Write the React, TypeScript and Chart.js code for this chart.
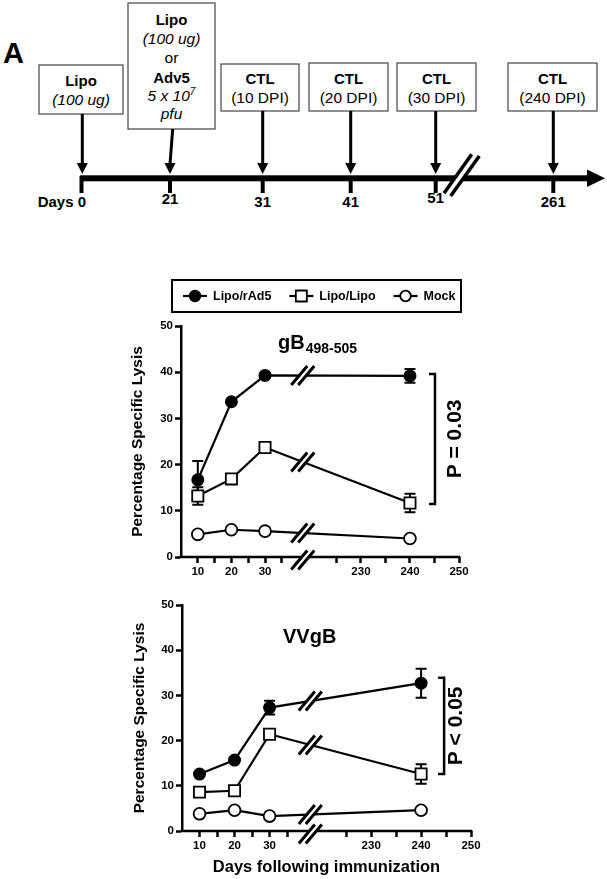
import React, { useEffect, useRef } from 'react';
import { Chart, registerables, LinearScale } from 'chart.js';

Chart.register(...registerables);

const FONT = '"Liberation Sans", Arial, Helvetica, sans-serif';

// ---------------- data ----------------
const days = [10, 20, 30, 240];
const seriesNames = ['Lipo/rAd5', 'Lipo/Lipo', 'Mock'];

const gbLipoRad5 = [16.7, 33.6, 39.3, 39.2];
const gbLipoRad5Err = [4.1, 0, 0, 1.5];
const gbLipoLipo = [13.2, 16.9, 23.7, 11.7];
const gbLipoLipoErr = [1.9, 0, 0, 2.0];
const gbMock = [4.9, 5.9, 5.6, 4.0];
const gbMockErr = [0, 0, 0, 0];

const vvLipoRad5 = [12.6, 15.7, 27.3, 32.7];
const vvLipoRad5Err = [0, 0, 1.5, 3.2];
const vvLipoLipo = [8.6, 8.9, 21.4, 12.6];
const vvLipoLipoErr = [0, 0, 0, 2.15];
const vvMock = [3.8, 4.6, 3.3, 4.6];
const vvMockErr = [0, 0, 0, 0];

const xTickValues = [10, 15, 20, 25, 30, 35, 225, 230, 235, 240, 245, 250];
const xTickLabels = ['10', '', '20', '', '30', '', '', '230', '', '240', '', '250'];
const yMin = 0;
const yMax = 50;
const yStep = 10;

const timelineDays = ['0', '21', '31', '41', '51', '261'];
const ctlTimes = ['(10 DPI)', '(20 DPI)', '(30 DPI)', '(240 DPI)'];

// ---------------- broken linear scale ----------------
class BrokenLinearScale extends LinearScale {
  static id = 'brokenLinear';
  static defaults = { ...(LinearScale as any).defaults };
  brk() {
    return (this as any).options.brk;
  }
  valueToDecimal(v: number) {
    const b = this.brk();
    if (v <= b.leftMax) return ((v - b.leftMin) / (b.leftMax - b.leftMin)) * b.leftEnd;
    if (v >= b.rightMin) return b.rightStart + ((v - b.rightMin) / (b.rightMax - b.rightMin)) * (1 - b.rightStart);
    return b.leftEnd + ((v - b.leftMax) / (b.rightMin - b.leftMax)) * (b.rightStart - b.leftEnd);
  }
  getPixelForValue(value: any) {
    if (value === null || value === undefined || isNaN(value)) return NaN;
    return (this as any).getPixelForDecimal(this.valueToDecimal(+value));
  }
  getValueForPixel(pixel: number) {
    const d = (this as any).getDecimalForPixel(pixel);
    const b = this.brk();
    if (d <= b.leftEnd) return b.leftMin + (d / b.leftEnd) * (b.leftMax - b.leftMin);
    if (d >= b.rightStart) return b.rightMin + ((d - b.rightStart) / (1 - b.rightStart)) * (b.rightMax - b.rightMin);
    return b.leftMax + ((d - b.leftEnd) / (b.rightStart - b.leftEnd)) * (b.rightMin - b.leftMax);
  }
}
Chart.register(BrokenLinearScale as any);

// ---------------- helpers ----------------
const markerStyles = [
  { pointStyle: 'circle', r: 5.6, fill: '#000' },
  { pointStyle: 'rect', r: 7.9, fill: '#fff' },
  { pointStyle: 'circle', r: 5.9, fill: '#fff' },
];

function drawBreak(ctx: CanvasRenderingContext2D, cx: number, cy: number) {
  const sep = 7, hx = 8, hy = 9.5;
  ctx.save();
  ctx.fillStyle = '#fff';
  ctx.beginPath();
  ctx.moveTo(cx - sep / 2 - hx, cy + hy);
  ctx.lineTo(cx - sep / 2 + hx, cy - hy);
  ctx.lineTo(cx + sep / 2 + hx, cy - hy);
  ctx.lineTo(cx + sep / 2 - hx, cy + hy);
  ctx.closePath();
  ctx.fill();
  ctx.strokeStyle = '#000';
  ctx.lineWidth = 3;
  ctx.beginPath();
  ctx.moveTo(cx - sep / 2 - hx, cy + hy);
  ctx.lineTo(cx - sep / 2 + hx, cy - hy);
  ctx.moveTo(cx + sep / 2 - hx, cy + hy);
  ctx.lineTo(cx + sep / 2 + hx, cy - hy);
  ctx.stroke();
  ctx.restore();
}

function drawLegendMarker(ctx: CanvasRenderingContext2D, i: number, x: number, y: number) {
  ctx.save();
  ctx.strokeStyle = '#000';
  ctx.lineWidth = 2.2;
  ctx.beginPath();
  ctx.moveTo(x - 12, y);
  ctx.lineTo(x + 12, y);
  ctx.stroke();
  ctx.lineWidth = 1.8;
  ctx.fillStyle = markerStyles[i].fill;
  ctx.beginPath();
  if (markerStyles[i].pointStyle === 'rect') {
    ctx.rect(x - 5.5, y - 5.5, 11, 11);
  } else {
    ctx.arc(x, y, 5.3, 0, Math.PI * 2);
  }
  ctx.fill();
  ctx.stroke();
  ctx.restore();
}

type Series = { values: number[]; err: number[] };

function buildConfig(p: any) {
  const series: Series[] = p.series;
  const datasets = series.map((s, i) => ({
    label: seriesNames[i],
    data: days.map((d, j) => ({ x: d, y: s.values[j] })),
    borderColor: '#000',
    borderWidth: 2.2,
    pointStyle: markerStyles[i].pointStyle,
    pointRadius: markerStyles[i].r,
    pointHoverRadius: markerStyles[i].r,
    pointBackgroundColor: markerStyles[i].fill,
    pointBorderColor: '#000',
    pointBorderWidth: 1.8,
    tension: 0,
    fill: false,
    clip: false,
  }));

  const plugin = {
    id: 'custom-' + p.key,
    beforeDatasetsDraw(chart: any) {
      const ctx = chart.ctx as CanvasRenderingContext2D;
      const { left, right, bottom } = chart.chartArea;
      const xs = chart.scales.x;
      const ys = chart.scales.y;
      ctx.save();
      ctx.strokeStyle = '#000';
      ctx.lineWidth = 2.5;
      ctx.beginPath();
      ctx.moveTo(left - 1.25, bottom);
      ctx.lineTo(right + 1.25, bottom);
      ctx.stroke();
      ctx.lineWidth = 2;
      series.forEach((s) => {
        s.err.forEach((e, j) => {
          if (!e) return;
          const x = xs.getPixelForValue(days[j]);
          const y1 = ys.getPixelForValue(s.values[j] + e);
          const y2 = ys.getPixelForValue(s.values[j] - e);
          ctx.beginPath();
          ctx.moveTo(x, y1);
          ctx.lineTo(x, y2);
          ctx.moveTo(x - 5.5, y1);
          ctx.lineTo(x + 5.5, y1);
          ctx.moveTo(x - 5.5, y2);
          ctx.lineTo(x + 5.5, y2);
          ctx.stroke();
        });
      });
      ctx.restore();
    },
    afterDatasetsDraw(chart: any) {
      const ctx = chart.ctx as CanvasRenderingContext2D;
      const { bottom } = chart.chartArea;
      const xs = chart.scales.x;
      const b = p.brk;
      const cx = (xs.getPixelForValue(b.leftMax) + xs.getPixelForValue(b.rightMin)) / 2;
      // break marks on lines
      series.forEach((_s, i) => {
        const pts = chart.getDatasetMeta(i).data;
        for (let j = 0; j < days.length - 1; j++) {
          if (days[j] <= b.leftMax && days[j + 1] >= b.rightMin) {
            const a = pts[j], c = pts[j + 1];
            const t = (cx - a.x) / (c.x - a.x);
            drawBreak(ctx, cx, a.y + t * (c.y - a.y));
          }
        }
      });
      drawBreak(ctx, cx, bottom + 3);

      // bracket with P value
      const br = p.bracket;
      const mU = chart.getDatasetMeta(br.upper).data[br.at];
      const mL = chart.getDatasetMeta(br.lower).data[br.at];
      const bx = mU.x + br.dx;
      const yTop = mU.y + br.topAdj;
      const yBot = mL.y + br.botAdj;
      ctx.save();
      ctx.strokeStyle = '#000';
      ctx.lineWidth = 2.5;
      ctx.beginPath();
      ctx.moveTo(bx - 6, yTop);
      ctx.lineTo(bx, yTop);
      ctx.lineTo(bx, yBot);
      ctx.lineTo(bx - 6, yBot);
      ctx.stroke();
      ctx.translate(mU.x + br.textDx, (yTop + yBot) / 2);
      ctx.rotate(-Math.PI / 2);
      ctx.fillStyle = '#000';
      ctx.font = `bold 21px ${FONT}`;
      ctx.textAlign = 'center';
      ctx.textBaseline = 'middle';
      ctx.fillText(br.text, 0, 0);
      ctx.restore();

      // panel title
      ctx.save();
      ctx.fillStyle = '#000';
      ctx.textBaseline = 'alphabetic';
      ctx.textAlign = 'left';
      ctx.font = `bold 20px ${FONT}`;
      ctx.fillText(p.title, p.titleX, p.titleY);
      if (p.titleSub) {
        const w = ctx.measureText(p.title).width;
        ctx.font = `bold 14px ${FONT}`;
        ctx.fillText(p.titleSub, p.titleX + w + 1, p.titleY + 4);
      }
      ctx.restore();

      // legend
      if (p.legend) {
        ctx.save();
        ctx.strokeStyle = '#000';
        ctx.lineWidth = 2;
        ctx.strokeRect(172, 10, 289, 32);
        ctx.font = `bold 12.5px ${FONT}`;
        ctx.fillStyle = '#000';
        ctx.textBaseline = 'middle';
        ctx.textAlign = 'left';
        let x = 183;
        const cy = 26;
        seriesNames.forEach((name, i) => {
          drawLegendMarker(ctx, i, x + 12, cy);
          ctx.fillText(name, x + 30, cy + 0.5);
          x = x + 30 + ctx.measureText(name).width + 18;
        });
        ctx.restore();
      }
    },
  };

  const tickFont = { family: FONT, size: 11.5, weight: 'bold' as const };

  return {
    type: 'line' as const,
    data: { datasets },
    plugins: [plugin],
    options: {
      responsive: false,
      maintainAspectRatio: false,
      animation: false as const,
      events: [],
      layout: { padding: { left: 0, top: p.padTop, right: p.padRight, bottom: 0 } },
      plugins: {
        legend: { display: false },
        tooltip: { enabled: false },
        title: { display: false },
      },
      scales: {
        x: {
          type: 'brokenLinear',
          min: 5,
          max: 250,
          brk: p.brk,
          afterBuildTicks: (scale: any) => {
            scale.ticks = xTickValues.map((v) => ({ value: v }));
          },
          afterFit: (scale: any) => {
            scale.height = p.xHeight;
          },
          ticks: {
            autoSkip: false,
            maxRotation: 0,
            minRotation: 0,
            padding: 2,
            color: '#000',
            font: tickFont,
            callback: (_v: any, i: number) => xTickLabels[i],
          },
          grid: {
            display: true,
            drawOnChartArea: false,
            drawTicks: true,
            tickLength: 6,
            tickWidth: 2.5,
            tickColor: '#000',
          },
          border: { display: false },
          title: p.xTitle
            ? {
                display: true,
                text: p.xTitle,
                color: '#000',
                font: { family: FONT, size: 16.5, weight: 'bold' },
                padding: { top: 0, bottom: 2 },
              }
            : { display: false },
        },
        y: {
          type: 'linear',
          min: yMin,
          max: yMax,
          afterFit: (scale: any) => {
            scale.width = p.yWidth;
          },
          ticks: { stepSize: yStep, padding: 2, color: '#000', font: tickFont },
          grid: {
            display: true,
            drawOnChartArea: false,
            drawTicks: true,
            tickLength: 6,
            tickWidth: 2.5,
            tickColor: '#000',
          },
          border: { display: true, color: '#000', width: 2.5 },
          title: {
            display: true,
            text: 'Percentage Specific Lysis',
            color: '#000',
            font: { family: FONT, size: 15.5, weight: 'bold' },
            padding: { top: p.yTitlePad, bottom: 0 },
          },
        },
      },
    },
  };
}

// ---------------- panel A (schematic) ----------------
function Box(props: { x: number; y: number; w: number; h: number; children?: any }) {
  return (
    <g>
      <rect x={props.x} y={props.y} width={props.w} height={props.h} fill="#fff" stroke="#444" strokeWidth={1.2} />
      {props.children}
    </g>
  );
}

function Arrow(props: { x1: number; y1: number; x2: number }) {
  const tipY = 174;
  const headY = 163;
  return (
    <g>
      <line x1={props.x1} y1={props.y1} x2={props.x2} y2={headY + 1} stroke="#000" strokeWidth={3} />
      <polygon points={`${props.x2 - 5.5},${headY} ${props.x2 + 5.5},${headY} ${props.x2},${tipY}`} fill="#000" />
    </g>
  );
}

function PanelA() {
  const ctlBoxes = [
    { x: 221, y: 64, w: 78, h: 47, ax: 262.7 },
    { x: 309, y: 63, w: 79, h: 48, ax: 350.7 },
    { x: 397, y: 63, w: 79, h: 48, ax: 435.7 },
    { x: 508, y: 63, w: 89, h: 48, ax: 553.3 },
  ];
  const tickX = [81.5, 170, 262.7, 350.7, 435.7, 553.3];
  const labelY = [207, 204, 206.7, 207.3, 203.3, 207.3];
  return (
    <svg width={607} height={240} style={{ position: 'absolute', left: 0, top: 0 }} fontFamily={FONT}>
      <text x={3} y={63} fontSize={29} fontWeight="bold" fill="#000">A</text>

      <Box x={39} y={65} w={84} h={49}>
        <text x={81} y={86} fontSize={15} fontWeight="bold" textAnchor="middle">Lipo</text>
        <text x={81} y={105} fontSize={15.5} fontStyle="italic" textAnchor="middle">(100 ug)</text>
      </Box>
      <Arrow x1={82.3} y1={114} x2={82.3} />

      <Box x={128} y={3} w={87} h={126}>
        <text x={171.5} y={25} fontSize={15} fontWeight="bold" textAnchor="middle">Lipo</text>
        <text x={171.5} y={44} fontSize={15.5} fontStyle="italic" textAnchor="middle">(100 ug)</text>
        <text x={171.5} y={63} fontSize={15.5} textAnchor="middle">or</text>
        <text x={171.5} y={82.7} fontSize={15} fontWeight="bold" textAnchor="middle">Adv5</text>
        <text x={171.5} y={101} fontSize={15.5} fontStyle="italic" textAnchor="middle">
          5 x 10<tspan fontSize={10} dy={-6}>7</tspan>
        </text>
        <text x={171.5} y={118.5} fontSize={15.5} fontStyle="italic" textAnchor="middle">pfu</text>
      </Box>
      <Arrow x1={172.7} y1={129} x2={170} />

      {ctlBoxes.map((b, i) => (
        <g key={i}>
          <Box x={b.x} y={b.y} w={b.w} h={b.h}>
            <text x={b.x + b.w / 2} y={84} fontSize={15} fontWeight="bold" textAnchor="middle">CTL</text>
            <text x={b.x + b.w / 2} y={103.3} fontSize={15.5} textAnchor="middle">{ctlTimes[i]}</text>
          </Box>
          <Arrow x1={b.ax} y1={b.y + b.h} x2={b.ax} />
        </g>
      ))}

      {/* timeline */}
      <rect x={80} y={175.3} width={509} height={6} fill="#000" />
      <polygon points="587,169.5 605,178.3 587,187" fill="#000" />
      {tickX.map((x, i) => (
        <line key={'t' + i} x1={x} y1={176} x2={x} y2={193} stroke="#000" strokeWidth={4} />
      ))}
      {/* break on timeline */}
      <polygon points="444,193.3 471.7,154.3 479.3,156 450.7,196" fill="#fff" />
      <line x1={444} y1={193.3} x2={471.7} y2={154.3} stroke="#000" strokeWidth={3.5} />
      <line x1={450.7} y1={196} x2={479.3} y2={156} stroke="#000" strokeWidth={3.5} />

      {timelineDays.map((d, i) =>
        i === 0 ? (
          <text key={'l' + i} x={86} y={labelY[i]} fontSize={15} fontWeight="bold" textAnchor="end">
            {'Days ' + d}
          </text>
        ) : (
          <text key={'l' + i} x={tickX[i]} y={labelY[i]} fontSize={15} fontWeight="bold" textAnchor="middle">
            {d}
          </text>
        )
      )}
    </svg>
  );
}

// ---------------- app ----------------
export default function App() {
  const topRef = useRef<HTMLCanvasElement>(null);
  const botRef = useRef<HTMLCanvasElement>(null);

  useEffect(() => {
    const topCfg = buildConfig({
      key: 'top',
      series: [
        { values: gbLipoRad5, err: gbLipoRad5Err },
        { values: gbLipoLipo, err: gbLipoLipoErr },
        { values: gbMock, err: gbMockErr },
      ],
      brk: { leftMin: 5, leftMax: 38.5, rightMin: 220, rightMax: 250, leftEnd: 0.405, rightStart: 0.471 },
      padTop: 56,
      padRight: 148,
      xHeight: 33,
      yWidth: 181,
      yTitlePad: 128.7,
      xTitle: null,
      title: 'gB',
      titleSub: '498-505',
      titleX: 278,
      titleY: 79,
      legend: true,
      bracket: { upper: 0, lower: 1, at: 3, dx: 25, topAdj: -2, botAdj: 1, textDx: 45, text: 'P = 0.03' },
    });
    const botCfg = buildConfig({
      key: 'bot',
      series: [
        { values: vvLipoRad5, err: vvLipoRad5Err },
        { values: vvLipoLipo, err: vvLipoLipoErr },
        { values: vvMock, err: vvMockErr },
      ],
      brk: { leftMin: 5, leftMax: 38.5, rightMin: 220, rightMax: 250, leftEnd: 0.406, rightStart: 0.482 },
      padTop: 15,
      padRight: 136,
      xHeight: 48,
      yWidth: 182,
      yTitlePad: 130.7,
      xTitle: 'Days following immunization',
      title: 'VVgB',
      titleSub: null,
      titleX: 283,
      titleY: 53.3,
      legend: false,
      bracket: { upper: 0, lower: 1, at: 3, dx: 23, topAdj: -5.5, botAdj: 0, textDx: 35, text: 'P < 0.05' },
    });
    const c1 = new Chart(topRef.current as HTMLCanvasElement, topCfg as any);
    const c2 = new Chart(botRef.current as HTMLCanvasElement, botCfg as any);
    return () => {
      c1.destroy();
      c2.destroy();
    };
  }, []);

  return (
    <div style={{ position: 'absolute', left: 0, top: 0, width: 607, height: 879, background: '#fff', overflow: 'hidden' }}>
      <PanelA />
      <canvas ref={topRef} width={607} height={320} style={{ position: 'absolute', left: 0, top: 270, width: 607, height: 320 }} />
      <canvas ref={botRef} width={607} height={289} style={{ position: 'absolute', left: 0, top: 590, width: 607, height: 289 }} />
    </div>
  );
}
